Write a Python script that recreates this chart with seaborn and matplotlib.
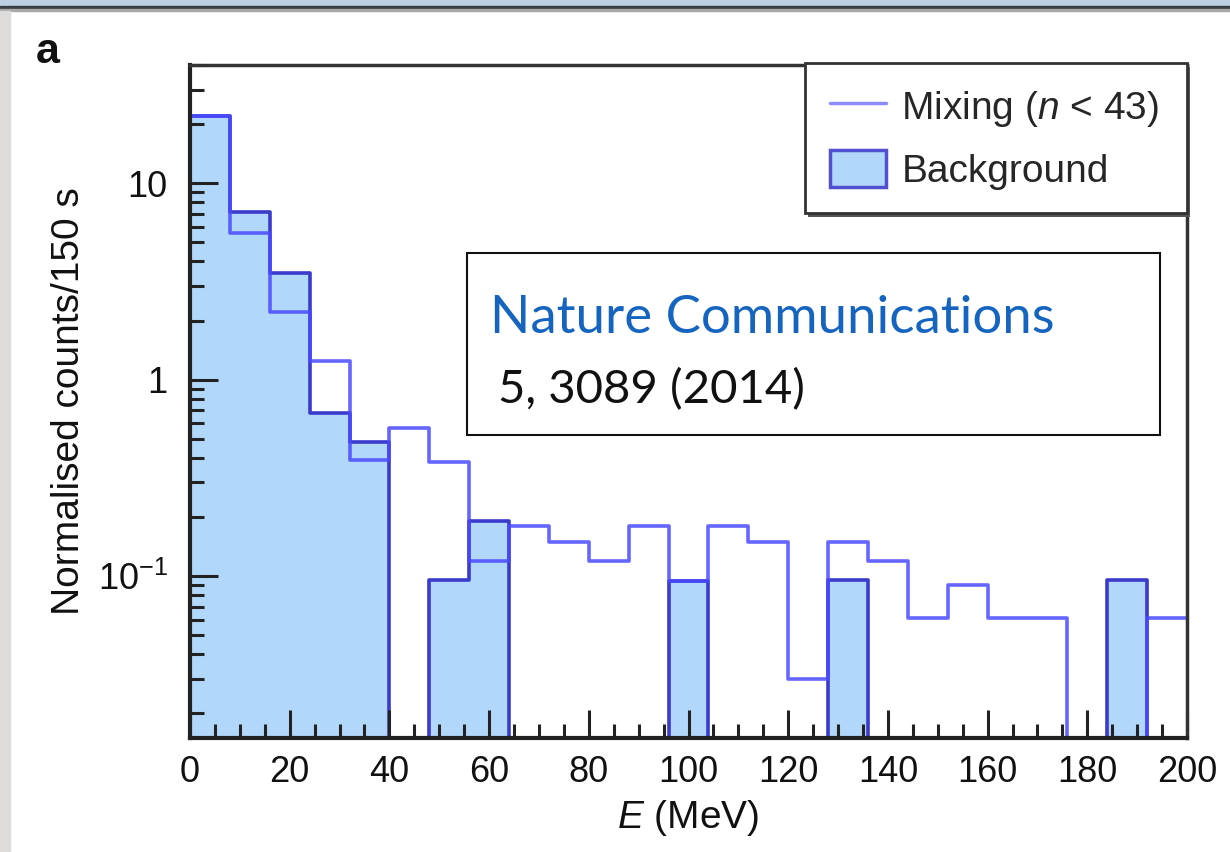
import numpy as np
import matplotlib
matplotlib.use("Agg")
import matplotlib.pyplot as plt
from matplotlib.lines import Line2D
from matplotlib.patches import Patch, Rectangle
from matplotlib.ticker import LogLocator, MultipleLocator, FixedLocator, FixedFormatter
import seaborn as sns

# Energy binning: 8 MeV bins from 0 to 200 MeV
bin_edges = list(range(0, 201, 8))
bin_centers = [e + 4 for e in bin_edges[:-1]]

# Normalised counts per 150 s
mixing = [22.0, 5.6, 2.2, 1.24, 0.39, 0.57, 0.38, 0.12, 0.18, 0.15,
          0.12, 0.18, 0.094, 0.18, 0.15, 0.030, 0.15, 0.12, 0.061, 0.090,
          0.061, 0.061, 0.0, 0.0, 0.061]
background = [22.0, 7.1, 3.5, 0.68, 0.48, 0.0, 0.096, 0.19, 0.0, 0.0,
              0.0, 0.0, 0.094, 0.0, 0.0, 0.0, 0.096, 0.0, 0.0, 0.0,
              0.0, 0.0, 0.0, 0.096, 0.0]

y_ticks = [0.1, 1, 10]
y_tick_labels = [r"10$^{-1}$", "1", "10"]
x_ticks = list(range(0, 201, 20))

sns.set_theme(style="white")
plt.rcParams["font.family"] = ["Liberation Sans", "DejaVu Sans"]
plt.rcParams["mathtext.fontset"] = "custom"
plt.rcParams["mathtext.rm"] = "Liberation Sans"
plt.rcParams["mathtext.it"] = "Liberation Sans:italic"

fill_color = "#b1d7fa"
bg_edge = "#3a3acb"
mix_color = "#4a4aff"

W, H = 1230, 852
fig = plt.figure(figsize=(W / 100, H / 100), dpi=100)

# window chrome around the panel
fig.patches.append(Rectangle((0, 1 - 6 / H), 1, 6 / H, transform=fig.transFigure,
                             color="#bcd0e4", zorder=0))
fig.patches.append(Rectangle((0, 1 - 9 / H), 1, 3 / H, transform=fig.transFigure,
                             color="#3a3d42", zorder=0))
fig.patches.append(Rectangle((0, 1 - 11 / H), 1, 2 / H, transform=fig.transFigure,
                             color="#a8a8a8", zorder=0))
fig.patches.append(Rectangle((0, 0), 10 / W, 1 - 11 / H, transform=fig.transFigure,
                             color="#dedcda", zorder=0))

ax = fig.add_axes([190 / W, (H - 738) / H, 997 / W, 673 / H])
ax.set_axisbelow(False)

sns.histplot(x=bin_centers, weights=background, bins=bin_edges, element="step",
             fill=True, color=fill_color, alpha=1.0, edgecolor=bg_edge,
             linewidth=2.6, ax=ax, zorder=1)
sns.histplot(x=bin_centers, weights=mixing, bins=bin_edges, element="step",
             fill=False, color=mix_color, alpha=0.85, linewidth=2.6, ax=ax, zorder=3)

ax.set_yscale("log")
ax.set_xlim(0, 200)
ax.set_ylim(0.015, 40)

ax.yaxis.set_major_locator(FixedLocator(y_ticks))
ax.yaxis.set_major_formatter(FixedFormatter(y_tick_labels))
ax.yaxis.set_minor_locator(LogLocator(base=10, subs=np.arange(2, 10)))
ax.yaxis.set_minor_formatter(plt.NullFormatter())
ax.xaxis.set_major_locator(FixedLocator(x_ticks))
ax.xaxis.set_minor_locator(MultipleLocator(5))

ax.tick_params(axis="both", which="both", bottom=True, left=True, top=False,
               right=False, direction="in", color="#222222", width=2.2)
ax.tick_params(axis="both", which="major", length=20, labelsize=26,
               labelcolor="#111111")
ax.tick_params(axis="both", which="minor", length=10)
ax.tick_params(axis="x", which="major", pad=12)
ax.tick_params(axis="y", which="major", pad=16)

for side in ["left", "bottom"]:
    ax.spines[side].set_linewidth(3)
    ax.spines[side].set_color("#222222")
for side in ["top", "right"]:
    ax.spines[side].set_linewidth(2.5)
    ax.spines[side].set_color("#333333")
for s in ax.spines.values():
    s.set_zorder(5)

ax.set_xlabel(r"$E$ (MeV)", fontsize=28, color="#111111", labelpad=6)
ax.set_ylabel("Normalised counts/150 s", fontsize=28, color="#111111", labelpad=8)

# legend box
lx0, lx1 = (805 - 190) / 997, 1.0
ly1 = 1 + 2 / 673
ly0 = 1 - (213 - 65) / 673
ax.add_patch(Rectangle((lx0 + 0.003, ly0 - 0.006), lx1 - lx0, ly1 - ly0,
                       transform=ax.transAxes, facecolor="#555555", edgecolor="none",
                       clip_on=False, zorder=6))
ax.add_patch(Rectangle((lx0, ly0), lx1 - lx0, ly1 - ly0, transform=ax.transAxes,
                       facecolor="white", edgecolor="#333333", linewidth=2,
                       clip_on=False, zorder=7))
handles = [Line2D([0], [0], color="#8c8cff", linewidth=2.5),
           Patch(facecolor=fill_color, edgecolor="#5050d0", linewidth=2.5)]
leg = ax.legend(handles, [r"Mixing ($n$ < 43)", "Background"],
                loc="upper left", bbox_to_anchor=(lx0 + 0.009, ly1 - 0.012),
                frameon=False, fontsize=28, handlelength=1.45, handleheight=1.1,
                handletextpad=0.4, labelspacing=0.55, borderaxespad=0)
leg.set_zorder(8)

# citation box
bx0 = (467 - 190) / 997
bx1 = (1160 - 190) / 997
by1 = 1 - (253 - 65) / 673
by0 = 1 - (435 - 65) / 673
ax.add_patch(Rectangle((bx0, by0), bx1 - bx0, by1 - by0, transform=ax.transAxes,
                       facecolor="white", edgecolor="#111111", linewidth=1.5,
                       zorder=9))
ax.text((490 - 190) / 997, 1 - (333 - 65) / 673, "Nature Communications",
        transform=ax.transAxes, fontsize=38, color="#1565c0",
        family=["Lato", "DejaVu Sans"], va="baseline", ha="left", zorder=10)
ax.text((498 - 190) / 997, 1 - (403 - 65) / 673, "5, 3089 (2014)",
        transform=ax.transAxes, fontsize=34, color="#111111",
        family=["Lato", "DejaVu Sans"], va="baseline", ha="left", zorder=10)

fig.text(36 / W, 1 - 63 / H, "a", fontsize=31, fontweight="bold", color="#111111",
         ha="left", va="baseline")

fig.savefig("out.png", dpi=100, facecolor="white")
